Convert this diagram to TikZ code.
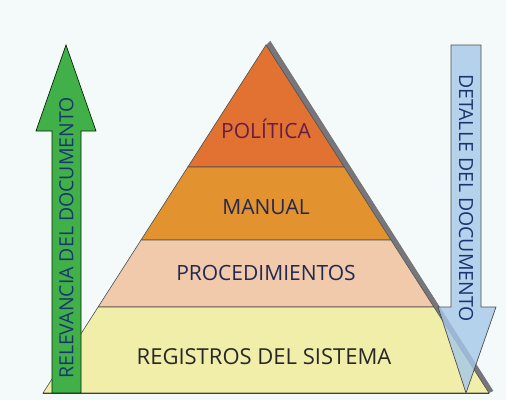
\documentclass[tikz,border=0pt]{standalone}
\usepackage{fontspec}
\setmainfont{Open Sans}
\usetikzlibrary{calc}
\definecolor{bg}{RGB}{244,250,250}
\definecolor{cpol}{RGB}{226,114,50}
\definecolor{cman}{RGB}{226,146,46}
\definecolor{cpro}{RGB}{240,202,170}
\definecolor{creg}{RGB}{240,238,168}
\definecolor{cgreen}{RGB}{66,176,72}
\definecolor{cblue}{RGB}{166,200,234}
\definecolor{cshadow}{RGB}{118,118,124}
\definecolor{tpol}{RGB}{100,30,70}
\definecolor{tnavy}{RGB}{35,40,80}
\definecolor{treg}{RGB}{40,40,40}
\definecolor{tarrow}{RGB}{25,55,110}
\tikzset{
  layer/.style={draw=black!70, line width=0.6pt},
  lbl/.style={font=\fontsize{21}{21}\selectfont, inner sep=0pt},
  arrowlbl/.style={font=\fontsize{19.5}{19.5}\selectfont, inner sep=0pt, text=tarrow},
}
\begin{document}
\begin{tikzpicture}[x=1pt,y=-1pt]
\useasboundingbox (0,0) rectangle (506,400);
\fill[bg] (0,0) rectangle (506,400);
% pyramid corners
\coordinate (A) at (266,45);
\coordinate (BL) at (43,393);
\coordinate (BR) at (489,393);
\coordinate (SA) at (270,41);
\coordinate (SB) at (493,391);
\coordinate (L1) at ($(A)!0.3506!(BL)$);
\coordinate (R1) at ($(A)!0.3506!(BR)$);
\coordinate (L2) at ($(A)!0.5603!(BL)$);
\coordinate (R2) at ($(A)!0.5603!(BR)$);
\coordinate (L3) at ($(A)!0.7529!(BL)$);
\coordinate (R3) at ($(A)!0.7529!(BR)$);
% shadow
\fill[cshadow] (A) -- (SA) -- (SB) -- (BR) -- cycle;
\draw[black!55, line width=0.6pt] (SA) -- (SB);
% layers
\filldraw[layer, fill=cpol] (A) -- (R1) -- (L1) -- cycle;
\filldraw[layer, fill=cman] (L1) -- (R1) -- (R2) -- (L2) -- cycle;
\filldraw[layer, fill=cpro] (L2) -- (R2) -- (R3) -- (L3) -- cycle;
\filldraw[layer, fill=creg] (L3) -- (R3) -- (BR) -- (BL) -- cycle;
\draw[black!75, line width=1pt] (BL) -- (BR);
% labels
\node[lbl, text=tpol] (pol) at (266,129) {POLÍTICA};
\node[lbl, text=tnavy] (man) at (266,207) {MANUAL};
\node[lbl, text=tnavy] (pro) at (266,273) {PROCEDIMIENTOS};
\node[lbl, text=treg, font=\fontsize{22}{22}\selectfont] (reg) at (264,357) {REGISTROS DEL SISTEMA};
% green arrow
\filldraw[fill=cgreen, draw=black!60!green!40!black, line width=0.7pt]
  (52,393) -- (52,131) -- (36,131) -- (66,45) -- (96,131) -- (81,131) -- (81,393) -- cycle;
\node[arrowlbl, rotate=90] (rel) at (66.5,238) {RELEVANCIA DEL DOCUMENTO};
% blue arrow
\filldraw[fill=cblue, fill opacity=0.8, draw=black!70, line width=0.7pt]
  (451,45) -- (481,45) -- (481,307) -- (496,307) -- (466,393) -- (438,307) -- (451,307) -- cycle;
\node[arrowlbl, rotate=-90] (det) at (466,198) {DETALLE DEL DOCUMENTO};
\end{tikzpicture}
\end{document}
